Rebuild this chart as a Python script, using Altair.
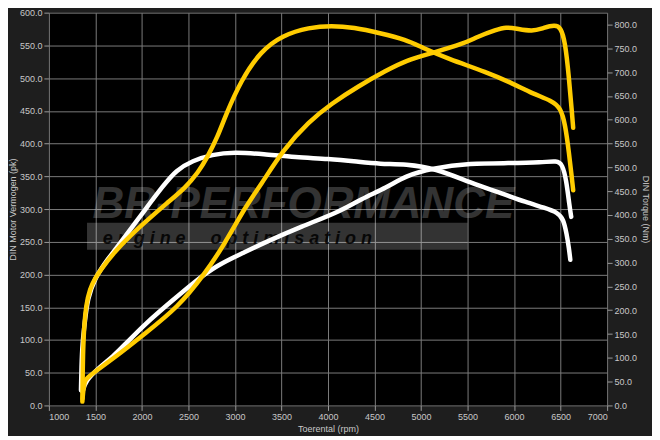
import altair as alt
import pandas as pd

# ---- data ----
# tuned torque (Nm, right axis)
tq_tuned_rpm = [1360, 1363, 1368, 1380, 1400, 1440, 1500, 1553, 1699, 1866, 2075, 2263, 2471, 2607,
                2700, 2816, 2900, 3066, 3275, 3515, 3797, 4037, 4277, 4558, 4840, 5007, 5289, 5706,
                5988, 6197, 6405, 6500, 6550, 6590, 6620, 6635]
tq_tuned_nm = [8, 60, 120, 170, 210, 245, 268, 284, 321, 355, 392, 424, 458, 490,
               520, 565, 610, 683, 744, 778, 794, 798, 794, 782, 768, 752, 728, 700,
               676, 655, 640, 625, 590, 530, 480, 452]

# tuned power (pk, left axis)
pw_tuned_rpm = [1362, 1372, 1385, 1400, 1699, 2044, 2388, 2670, 2878, 3118, 3275, 3515, 3797, 4037,
                4318, 4631, 4840, 5111, 5466, 5602, 5810, 5915, 6019, 6197, 6320, 6437, 6500, 6550,
                6590, 6620, 6635]
pw_tuned_pk = [10, 26, 36, 42, 72, 111, 150, 200, 244, 305, 336, 390, 434, 461,
               487, 512, 527, 538, 553, 563, 574, 578, 576, 571, 577, 581, 578, 555,
               500, 450, 424]

# stock torque (Nm, right axis)
tq_stock_rpm = [1345, 1350, 1360, 1386, 1417, 1490, 1626, 1803, 2033, 2231, 2367, 2544, 2753, 2993,
                3306, 3650, 4005, 4318, 4558, 4840, 5153, 5529, 5884, 6123, 6332, 6468, 6530, 6565,
                6590, 6604]
tq_stock_nm = [32, 80, 130, 175, 225, 266, 306, 350, 411, 462, 494, 514, 527, 532,
               528, 521, 518, 512, 507, 507, 498, 468, 444, 427, 415, 405, 392, 360,
               330, 306]

# stock power (pk, left axis)
pw_stock_rpm = [1362, 1397, 1532, 1699, 1803, 2044, 2325, 2565, 2805, 3087, 3306, 3723, 4110, 4350,
                4631, 4840, 5111, 5529, 5946, 6301, 6460, 6520, 6560, 6595, 6614]
pw_stock_pk = [21, 38, 57, 76, 91, 126, 160, 189, 214, 233, 248, 274, 295, 315,
               333, 351, 362, 370, 370, 371, 374, 368, 345, 305, 288]

x_ticks = list(range(1000, 7001, 500))
pk_ticks = list(range(0, 601, 50))
nm_ticks = list(range(0, 801, 50))

# watermark texts
wm_title = ["BR-PERFORMANCE"]
wm_sub = ["e n g i n e \u00a0\u00a0\u00a0 o p t i m i s a t i o n"]

FONT = "Liberation Sans"
LBL = "#c8c8c8"
GRID = "#7a7a7a"

x_scale = alt.Scale(domain=[1000, 7000], nice=False, zero=False)
pk_scale = alt.Scale(domain=[0, 600], nice=False)
nm_scale = alt.Scale(domain=[0, 825], nice=False)

x_axis = alt.Axis(values=x_ticks, format="d", title="Toerental (rpm)", grid=True,
                  gridColor=GRID, gridWidth=1, domain=False, tickColor="#9a9a9a", tickSize=5,
                  labelColor=LBL, titleColor=LBL, labelFontSize=9, titleFontSize=9,
                  titleFontWeight="normal", labelPadding=2, titlePadding=3, labelFont=FONT,
                  titleFont=FONT)


def X(field="rpm"):
    return alt.X(f"{field}:Q", scale=x_scale, axis=x_axis)


df_tq_t = pd.DataFrame({"rpm": tq_tuned_rpm, "v": tq_tuned_nm})
df_pw_t = pd.DataFrame({"rpm": pw_tuned_rpm, "v": pw_tuned_pk})
df_tq_s = pd.DataFrame({"rpm": tq_stock_rpm, "v": tq_stock_nm})
df_pw_s = pd.DataFrame({"rpm": pw_stock_rpm, "v": pw_stock_pk})

line_kw = dict(interpolate="basis", strokeWidth=4.5, strokeCap="round", strokeJoin="round")

left_axis = alt.Axis(values=pk_ticks, format=".1f", title="DIN Motor Vermogen (pk)", orient="left",
                     grid=True, gridColor=GRID, gridWidth=1, domain=False, tickColor="#9a9a9a",
                     tickSize=5, labelColor=LBL, titleColor=LBL, labelFontSize=9, titleFontSize=9,
                     titleFontWeight="normal", labelPadding=2, titlePadding=2, labelFont=FONT,
                     titleFont=FONT)
right_axis = alt.Axis(values=nm_ticks, format=".1f", title="DIN Torque (Nm)", orient="right",
                      grid=False, domain=False, tickColor="#9a9a9a", tickSize=5, labelColor=LBL,
                      titleColor=LBL, labelFontSize=9, titleFontSize=9, titleFontWeight="normal",
                      labelPadding=2, titlePadding=4, labelFont=FONT, titleFont=FONT)

# watermark (in data space of the power axis)
band = alt.Chart(pd.DataFrame({"rpm": [1410], "rpm2": [5500], "v": [238], "v2": [279]})).mark_rect(
    color="#ffffff", opacity=0.2
).encode(x=X(), x2="rpm2:Q", y=alt.Y("v:Q", scale=pk_scale, axis=None), y2="v2:Q")

title_wm = alt.Chart(pd.DataFrame({"rpm": [1470], "v": [287], "t": wm_title})).mark_text(
    align="left", baseline="alphabetic", font=FONT, fontSize=44, fontStyle="italic",
    fontWeight="bold", color="#ffffff", opacity=0.2
).encode(x=X(), y=alt.Y("v:Q", scale=pk_scale, axis=None), text="t:N")

sub_wm = alt.Chart(pd.DataFrame({"rpm": [1580], "v": [247], "t": wm_sub})).mark_text(
    align="left", baseline="alphabetic", font=FONT, fontSize=18, fontStyle="italic",
    fontWeight="bold", color="#000000", opacity=0.85
).encode(x=X(), y=alt.Y("v:Q", scale=pk_scale, axis=None), text="t:N")

pw_s = alt.Chart(df_pw_s).mark_line(color="#ffffff", **line_kw).encode(
    x=X(), y=alt.Y("v:Q", scale=pk_scale, axis=left_axis))
tq_s = alt.Chart(df_tq_s).mark_line(color="#ffffff", **line_kw).encode(
    x=X(), y=alt.Y("v:Q", scale=nm_scale, axis=right_axis))
pw_t = alt.Chart(df_pw_t).mark_line(color="#ffcc00", **line_kw).encode(
    x=X(), y=alt.Y("v:Q", scale=pk_scale, axis=None))
tq_t = alt.Chart(df_tq_t).mark_line(color="#ffcc00", **line_kw).encode(
    x=X(), y=alt.Y("v:Q", scale=nm_scale, axis=None))

chart = alt.layer(band, title_wm, sub_wm, pw_s, tq_s, pw_t, tq_t).resolve_scale(
    y="independent"
).properties(
    width=646, height=428,
    autosize=alt.AutoSizeParams(type="fit", contains="padding"),
    padding={"left": 0, "top": 0, "right": 2, "bottom": 2},
    background="#1e1e1e",
).configure_view(fill="#000000", stroke="#000000")

chart.save("out.html", embed_options={"renderer": "svg", "actions": False})
